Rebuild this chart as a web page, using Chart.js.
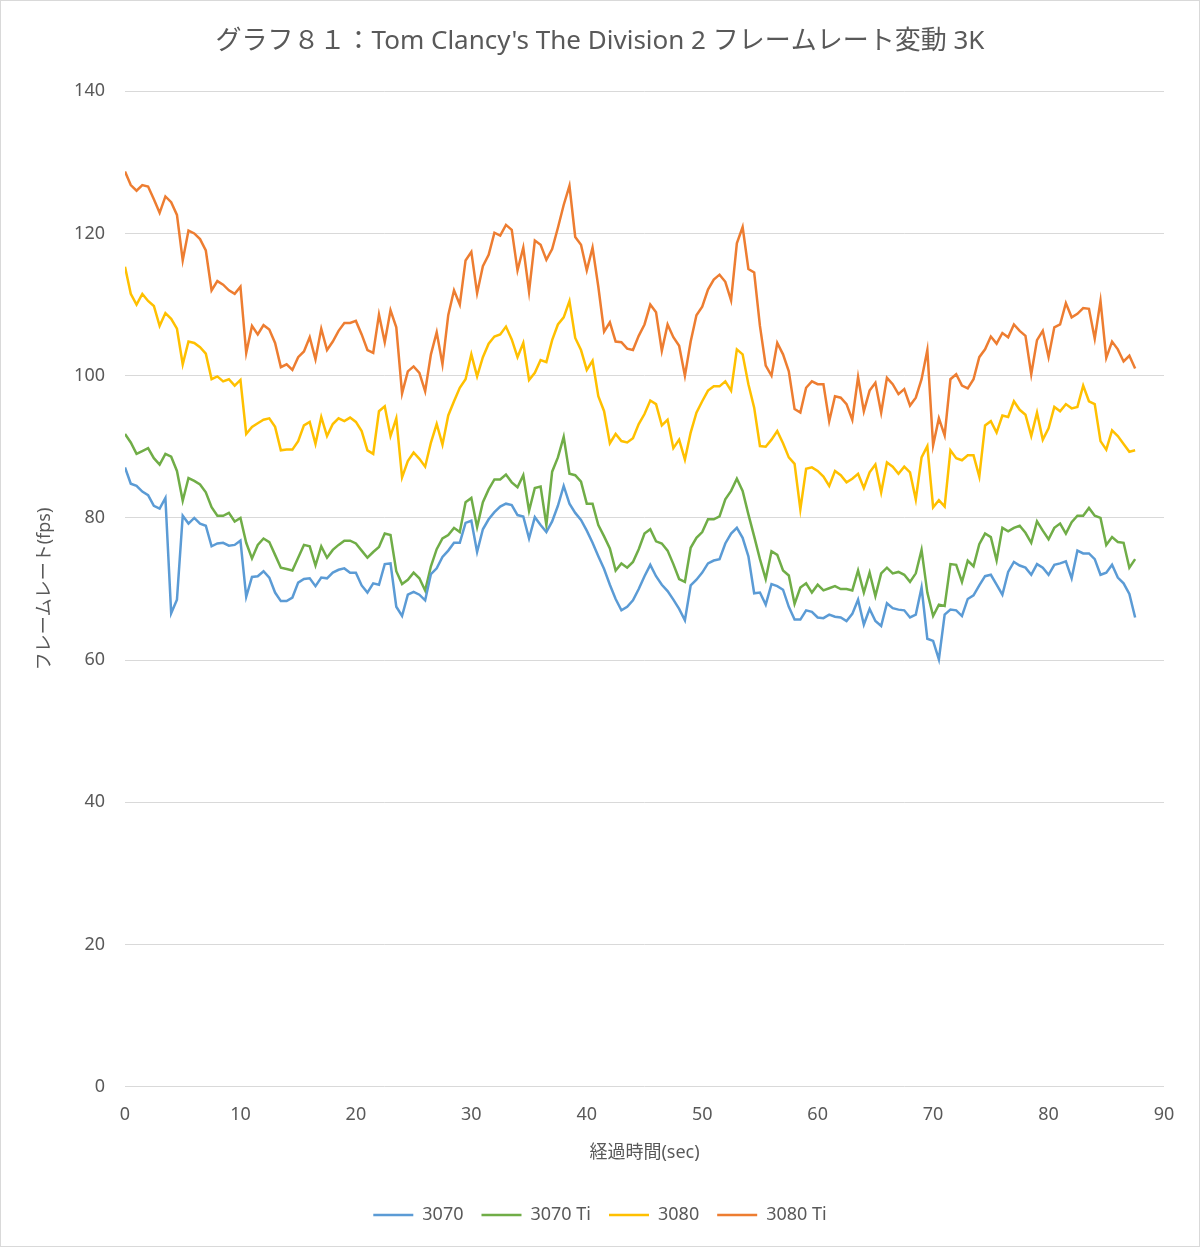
<!DOCTYPE html>
<html>
<head>
<meta charset="utf-8">
<script src="https://cdn.jsdelivr.net/npm/chart.js@4.4.1/dist/chart.umd.min.js"></script>
<style>
  html, body { margin: 0; padding: 0; background: #fff; }
  #wrap { width: 1200px; height: 1247px; }
</style>
</head>
<body>
<div id="wrap"><canvas id="frameRate" width="1200" height="1247"></canvas></div>
<script>
// sampled every 0.5 sec, 0 .. 87.5
const times = Array.from({ length: 176 }, (_, i) => i / 2)

const fps3070 = [
	87.1, 84.8, 84.5, 83.7, 83.2, 81.7, 81.3, 82.8, 66.6, 68.5,
	80.3, 79.2, 80.0, 79.2, 78.9, 76.0, 76.4, 76.5, 76.1, 76.2,
	76.8, 68.9, 71.7, 71.8, 72.5, 71.6, 69.5, 68.3, 68.3, 68.8,
	70.9, 71.4, 71.5, 70.4, 71.6, 71.5, 72.3, 72.7, 72.9, 72.3,
	72.3, 70.5, 69.5, 70.8, 70.6, 73.5, 73.6, 67.5, 66.2, 69.2,
	69.6, 69.2, 68.4, 72.1, 72.9, 74.5, 75.4, 76.5, 76.5, 79.3,
	79.6, 75.2, 78.4, 79.8, 80.8, 81.6, 82.0, 81.8, 80.4, 80.2,
	77.1, 80.1, 79.0, 78.0, 79.5, 81.7, 84.5, 82.0, 80.7, 79.7,
	78.2, 76.5, 74.6, 72.8, 70.6, 68.6, 67.0, 67.5, 68.4, 70.0,
	71.8, 73.4, 71.8, 70.6, 69.7, 68.5, 67.2, 65.6, 70.5, 71.3,
	72.3, 73.6, 74.0, 74.2, 76.4, 77.8, 78.6, 77.2, 74.6, 69.4,
	69.5, 67.8, 70.7, 70.4, 69.9, 67.5, 65.7, 65.7, 67.0, 66.8,
	66.0, 65.9, 66.4, 66.1, 66.0, 65.5, 66.5, 68.5, 65.0, 67.2,
	65.5, 64.8, 68.0, 67.3, 67.1, 67.0, 66.0, 66.4, 70.2, 63.0,
	62.7, 60.1, 66.4, 67.1, 67.0, 66.2, 68.6, 69.1, 70.5, 71.8,
	72.0, 70.6, 69.2, 72.4, 73.8, 73.3, 73.0, 72.0, 73.5, 73.0,
	72.0, 73.4, 73.6, 73.9, 71.5, 75.4, 75.0, 75.0, 74.2, 72.0,
	72.3, 73.4, 71.6, 70.8, 69.3, 66.0,
]

const fps3070Ti = [
	91.8, 90.6, 89.0, 89.4, 89.8, 88.4, 87.5, 89.0, 88.6, 86.6,
	82.4, 85.6, 85.2, 84.7, 83.6, 81.5, 80.3, 80.3, 80.7, 79.5,
	80.0, 76.5, 74.3, 76.2, 77.1, 76.6, 74.8, 73.0, 72.8, 72.6,
	74.4, 76.2, 76.0, 73.3, 76.0, 74.4, 75.5, 76.2, 76.8, 76.8,
	76.4, 75.4, 74.4, 75.2, 75.9, 77.8, 77.6, 72.5, 70.7, 71.3,
	72.3, 71.5, 69.8, 73.2, 75.6, 77.1, 77.6, 78.6, 78.0, 82.2,
	82.8, 78.7, 82.2, 84.0, 85.4, 85.4, 86.1, 85.0, 84.3, 86.0,
	81.0, 84.2, 84.4, 79.0, 86.5, 88.5, 91.4, 86.2, 86.0, 85.1,
	82.0, 82.0, 79.0, 77.4, 75.7, 72.6, 73.6, 73.0, 73.8, 75.6,
	77.8, 78.4, 76.7, 76.4, 75.4, 73.5, 71.4, 71.0, 75.8, 77.2,
	78.0, 79.8, 79.8, 80.2, 82.6, 83.8, 85.5, 83.8, 80.5, 77.4,
	74.2, 71.4, 75.3, 74.8, 72.6, 71.9, 67.9, 70.2, 70.8, 69.5,
	70.6, 69.8, 70.1, 70.4, 70.0, 70.0, 69.8, 72.6, 69.5, 72.3,
	69.0, 72.2, 73.0, 72.2, 72.4, 72.0, 71.0, 72.2, 75.5, 69.5,
	66.2, 67.8, 67.6, 73.5, 73.4, 71.0, 74.0, 73.2, 76.3, 77.8,
	77.3, 74.0, 78.6, 78.1, 78.6, 78.9, 77.9, 76.5, 79.5, 78.2,
	77.0, 78.6, 79.2, 77.8, 79.4, 80.3, 80.3, 81.4, 80.3, 80.0,
	76.2, 77.3, 76.6, 76.5, 73.0, 74.2,
]

const fps3080 = [
	115.3, 111.5, 110.0, 111.5, 110.5, 109.8, 107.0, 108.8, 108.0, 106.6,
	101.6, 104.8, 104.6, 104.0, 103.1, 99.5, 99.9, 99.2, 99.5, 98.6,
	99.4, 91.8, 92.8, 93.3, 93.8, 94.0, 92.8, 89.5, 89.6, 89.6,
	90.8, 93.0, 93.5, 90.4, 94.2, 91.5, 93.2, 94.0, 93.6, 94.1,
	93.5, 92.2, 89.5, 89.0, 95.0, 95.7, 91.5, 94.0, 85.7, 88.0,
	89.2, 88.3, 87.2, 90.6, 93.2, 90.3, 94.4, 96.4, 98.3, 99.5,
	103.0, 99.9, 102.6, 104.5, 105.5, 105.8, 106.9, 105.1, 102.6, 104.6,
	99.4, 100.4, 102.2, 101.9, 105.0, 107.2, 108.2, 110.5, 105.3, 103.6,
	100.8, 102.1, 97.1, 95.0, 90.5, 91.8, 90.8, 90.6, 91.2, 93.2,
	94.6, 96.5, 96.0, 93.0, 93.8, 89.8, 91.0, 88.2, 92.0, 94.8,
	96.4, 97.9, 98.5, 98.5, 99.2, 97.9, 103.7, 103.0, 98.8, 95.5,
	90.1, 90.0, 91.0, 92.2, 90.5, 88.5, 87.6, 81.2, 86.9, 87.1,
	86.6, 85.8, 84.5, 86.6, 86.0, 85.0, 85.5, 86.2, 84.2, 86.4,
	87.5, 83.6, 87.8, 87.2, 86.2, 87.2, 86.4, 82.6, 88.5, 90.1,
	81.5, 82.5, 81.6, 89.5, 88.4, 88.1, 88.8, 88.8, 85.8, 93.0,
	93.6, 92.0, 94.4, 94.2, 96.4, 95.2, 94.5, 91.5, 94.8, 91.0,
	92.6, 95.6, 95.0, 96.0, 95.4, 95.6, 98.6, 96.4, 96.0, 90.8,
	89.6, 92.3, 91.5, 90.4, 89.3, 89.5,
]

const fps3080Ti = [
	128.7, 126.8, 126.0, 126.8, 126.6, 124.8, 122.9, 125.2, 124.4, 122.6,
	116.2, 120.4, 120.0, 119.2, 117.6, 112.0, 113.3, 112.8, 112.0, 111.5,
	112.5, 103.2, 107.0, 105.8, 107.1, 106.5, 104.6, 101.2, 101.6, 100.8,
	102.6, 103.4, 105.4, 102.3, 106.6, 103.6, 104.8, 106.3, 107.4, 107.4,
	107.7, 105.8, 103.6, 103.2, 108.6, 104.7, 109.2, 106.8, 97.5, 100.6,
	101.3, 100.4, 97.8, 103.0, 106.1, 101.6, 108.5, 112.0, 110.0, 116.2,
	117.4, 111.6, 115.4, 117.0, 120.1, 119.7, 121.2, 120.5, 114.8, 118.0,
	111.8, 119.0, 118.4, 116.3, 117.8, 120.8, 124.0, 126.7, 119.5, 118.4,
	114.8, 118.0, 112.5, 106.2, 107.5, 104.8, 104.7, 103.8, 103.6, 105.6,
	107.2, 110.0, 108.9, 103.5, 107.2, 105.4, 104.2, 100.0, 104.8, 108.5,
	109.7, 112.1, 113.5, 114.2, 113.2, 110.6, 118.6, 120.9, 115.0, 114.5,
	107.0, 101.4, 100.0, 104.6, 103.0, 100.6, 95.3, 94.8, 98.3, 99.2,
	98.8, 98.8, 93.6, 97.1, 96.9, 96.0, 93.8, 99.8, 95.0, 97.9,
	99.0, 94.8, 99.7, 98.8, 97.4, 98.1, 95.8, 96.9, 99.5, 103.6,
	90.2, 94.0, 91.6, 99.5, 100.2, 98.6, 98.2, 99.5, 102.6, 103.7,
	105.5, 104.5, 106.0, 105.4, 107.2, 106.3, 105.6, 100.2, 105.0, 106.3,
	102.6, 106.8, 107.2, 110.2, 108.2, 108.7, 109.5, 109.4, 105.2, 110.5,
	102.5, 104.8, 103.7, 102.0, 102.8, 101.0,
]

const seriesNames = ['3070', '3070 Ti', '3080', '3080 Ti']
const seriesColors = ['#5B9BD5', '#70AD47', '#FFC000', '#ED7D31']
const seriesValues = [fps3070, fps3070Ti, fps3080, fps3080Ti]

const xTicks = [0, 10, 20, 30, 40, 50, 60, 70, 80, 90]
const yTicks = [0, 20, 40, 60, 80, 100, 120, 140]

Chart.defaults.font.family = "'Noto Sans', 'Noto Sans CJK JP', sans-serif"
Chart.defaults.color = '#595959'

const frame = {
	id: 'frame',
	beforeDraw(chart) {
		const c = chart.ctx
		c.save()
		c.fillStyle = '#fff'
		c.fillRect(0, 0, chart.width, chart.height)
		c.strokeStyle = '#d9d9d9'
		c.lineWidth = 1
		c.strokeRect(0.5, 0.5, chart.width - 1, chart.height - 1)
		c.restore()
	},
}

const ctx = document.getElementById('frameRate')

const frameRateChart = new Chart(ctx, {
	type: 'line',
	data: {
		datasets: seriesNames.map((name, i) => ({
			label: name,
			data: times.map((t, j) => ({ x: t, y: seriesValues[i][j] })),
			borderColor: seriesColors[i],
			backgroundColor: seriesColors[i],
			borderWidth: 2.5,
			pointRadius: 0,
			tension: 0,
		})),
	},
	plugins: [frame],
	options: {
		responsive: false,
		animation: false,
		devicePixelRatio: 1,
		layout: { padding: { left: 0, right: 0, top: 0, bottom: 13 } },
		plugins: {
			title: {
				display: true,
				text: "グラフ８１：Tom Clancy's The Division 2 フレームレート変動 3K",
				font: { size: 26, weight: 'normal' },
				color: '#595959',
				padding: { top: 26, bottom: 34 },
			},
			legend: {
				position: 'bottom',
				labels: {
					usePointStyle: true,
					pointStyle: 'line',
					pointStyleWidth: 40,
					font: { size: 18 },
					padding: 18,
				},
			},
			tooltip: { enabled: false },
		},
		scales: {
			x: {
				type: 'linear',
				min: 0,
				max: 90,
				afterBuildTicks: (s) => { s.ticks = xTicks.map((v) => ({ value: v })) },
				afterFit: (s) => { s.paddingRight = 36 },
				ticks: { font: { size: 18 }, padding: 9 },
				grid: { display: false },
				border: { display: false },
				title: {
					display: true,
					text: '経過時間(sec)',
					font: { size: 18 },
					padding: { top: 8, bottom: 24 },
				},
			},
			y: {
				min: 0,
				max: 140,
				afterBuildTicks: (s) => { s.ticks = yTicks.map((v) => ({ value: v })) },
				afterFit: (s) => { s.width = 125 },
				ticks: { font: { size: 18 }, padding: 20 },
				grid: { color: '#d9d9d9', drawTicks: false },
				border: { display: false },
				title: {
					display: true,
					text: 'フレームレート(fps)',
					font: { size: 18 },
					padding: { top: 34, bottom: 0 },
				},
			},
		},
	},
})
</script>
</body>
</html>
